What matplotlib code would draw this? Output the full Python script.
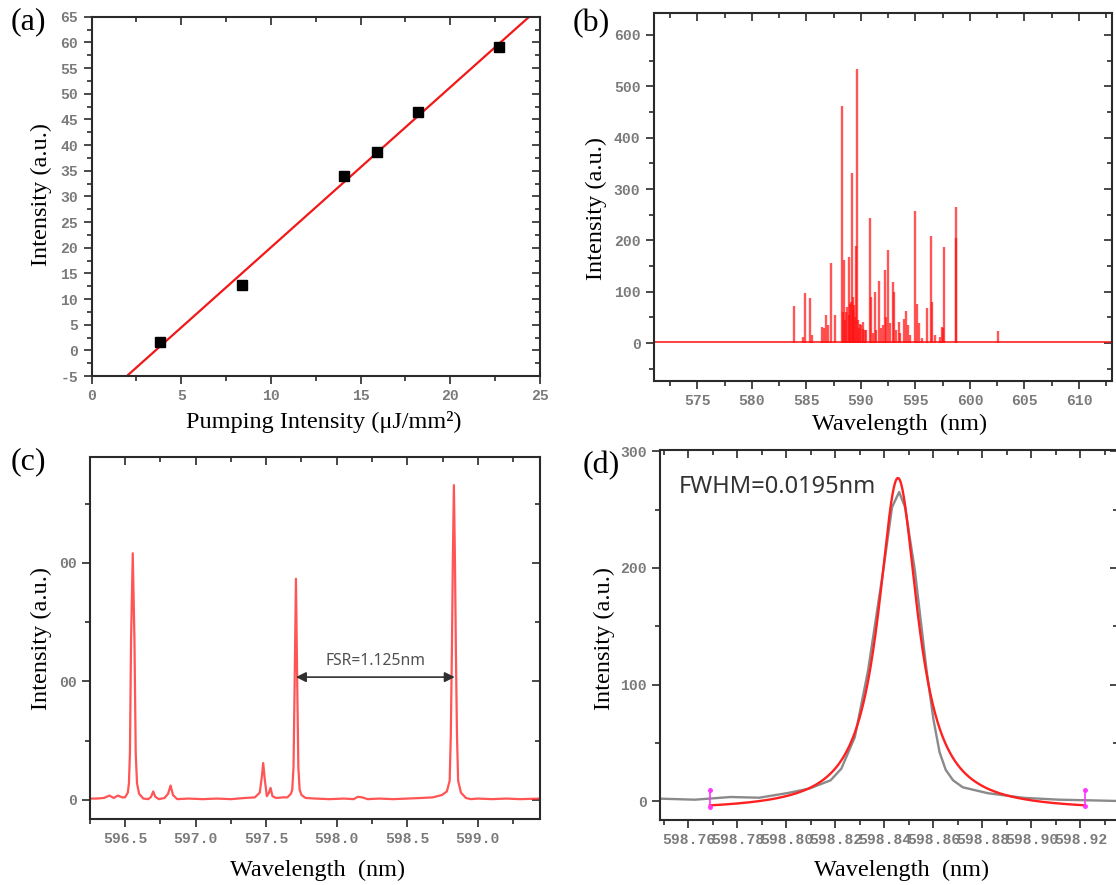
import numpy as np
import matplotlib
matplotlib.use("Agg")
import matplotlib.pyplot as plt
from matplotlib.ticker import MultipleLocator

# ---------------- data ----------------
# (a) output intensity versus pumping intensity
pump_intensity = [3.8, 8.4, 14.1, 15.9, 18.2, 22.7]
output_intensity = [1.7, 12.8, 33.9, 38.6, 46.4, 59.0]

# (b) lasing lines of the full spectrum
line_wavelength = [583.91, 584.70, 584.83, 585.32, 585.50, 586.42, 586.60, 586.82,
                   586.95, 587.27, 587.64, 588.26, 588.35, 588.47, 588.55, 588.65,
                   588.75, 588.87, 588.95, 589.00, 589.05, 589.17, 589.25, 589.32,
                   589.40, 589.50, 589.57, 589.63, 589.70, 589.80, 589.90, 590.00,
                   590.15, 590.20, 590.37, 590.50, 590.79, 590.90, 591.10, 591.25,
                   591.40, 591.62, 591.80, 592.00, 592.23, 592.30, 592.53, 592.70,
                   592.94, 593.04, 593.20, 593.45, 593.60, 593.91, 594.13, 594.30,
                   594.50, 594.92, 595.14, 595.30, 595.60, 596.06, 596.42, 596.55,
                   596.80, 597.30, 597.43, 597.50, 597.64, 598.72, 598.74, 602.57]
line_intensity = [72, 12, 97, 88, 15, 31, 30, 54,
                  35, 156, 54, 461, 60, 162, 45, 60,
                  70, 168, 55, 77, 80, 331, 65, 90,
                  75, 50, 190, 533, 45, 30, 38, 35,
                  41, 28, 25, 25, 244, 90, 20, 100,
                  25, 122, 30, 35, 143, 50, 182, 40,
                  120, 99, 25, 41, 20, 47, 62, 35,
                  15, 257, 77, 40, 10, 69, 208, 80,
                  15, 12, 31, 30, 188, 205, 265, 23]
spectrum_range = [571.0, 613.0]
baseline_level = [1.5, 1.5]

# (c) high resolution spectrum around 598 nm
c_wavelength = [596.25, 596.30, 596.35, 596.39, 596.42, 596.45, 596.48, 596.50,
                596.52, 596.528, 596.535, 596.543, 596.555, 596.567, 596.576, 596.585,
                596.60, 596.63, 596.665, 596.685, 596.70, 596.715, 596.74, 596.78,
                596.805, 596.823, 596.84, 596.87, 596.95, 597.05, 597.15, 597.25,
                597.35, 597.42, 597.455, 597.47, 597.479, 597.49, 597.505, 597.52,
                597.531, 597.545, 597.57, 597.62, 597.65, 597.675, 597.685, 597.694,
                597.701, 597.711, 597.721, 597.728, 597.737, 597.75, 597.78, 597.85,
                597.95, 598.05, 598.12, 598.15, 598.18, 598.22, 598.30, 598.40,
                598.50, 598.60, 598.68, 598.745, 598.78, 598.80, 598.808, 598.816,
                598.822, 598.830, 598.838, 598.844, 598.852, 598.86, 598.88, 598.915,
                598.95, 599.00, 599.10, 599.20, 599.30, 599.44]
c_intensity = [2, 2, 3, 7, 3, 7, 4, 4,
               12, 28, 79, 270, 416, 270, 79, 28,
               10, 2, 1, 5, 14, 5, 1, 3,
               10, 24, 8, 1, 2, 1, 2, 1,
               3, 4, 12, 40, 62, 35, 6, 12,
               20, 6, 3, 4, 4, 10, 17, 56,
               180, 373, 180, 56, 17, 8, 3, 2,
               1, 2, 1, 5, 4, 1, 2, 1,
               2, 3, 4, 8, 14, 32, 107, 253,
               394, 531, 394, 253, 107, 32, 12, 3,
               1, 2, 1, 2, 1, 2]
fsr_start = 597.711
fsr = 1.125
fsr_level = 207

# (d) single mode and its Lorentzian fit
d_wavelength = [598.7481, 598.7626, 598.7772, 598.7889, 598.8005, 598.8093, 598.8180,
                598.8224, 598.8279, 598.8333, 598.8395, 598.8431, 598.8460, 598.8484,
                598.8524, 598.8572, 598.8600, 598.8625, 598.8650, 598.8680, 598.8720,
                598.8821, 598.8967, 598.9112, 598.9250, 598.9350]
d_intensity = [2.3, 1.4, 3.7, 3.1, 7.1, 10.9, 18.0,
               28.0, 55.0, 112.0, 198.0, 252.0, 265.0, 252.0,
               198.0, 112.0, 70.0, 42.0, 27.0, 18.0, 12.0,
               7.0, 3.0, 1.4, 0.8, 0.3]
fwhm = 0.0195
fit_center = 598.8455
fit_amplitude = 285.0
fit_offset = -8.0
fit_range = [598.7687, 598.9217]

# ---------------- styling ----------------
W, H = 1116, 885
fig = plt.figure(figsize=(W / 100, H / 100), dpi=100)

SERIF = "Liberation Serif"
TICK_FONT = "Liberation Mono"
TICK_COLOR = "#7a7a7a"
FRAME = "#2a2a2a"
TICK_KW = dict(fontfamily=TICK_FONT, fontsize=10.6, fontweight="bold", color=TICK_COLOR)
LABEL_SIZE = 17.5
PANEL_SIZE = 23


def rect(left, top, right, bottom):
    return [left / W, 1 - bottom / H, (right - left) / W, (bottom - top) / H]


def frame(ax, xmajor, xminor, ymajor, yminor, xlim, ylim):
    ax.set_xlim(*xlim)
    ax.set_ylim(*ylim)
    for sp in ax.spines.values():
        sp.set_color(FRAME)
        sp.set_linewidth(1.5)
    ax.xaxis.set_minor_locator(MultipleLocator(xminor))
    ax.yaxis.set_minor_locator(MultipleLocator(yminor))
    ax.tick_params(which="both", direction="out", color=FRAME, width=1.2, pad=4)
    ax.tick_params(which="major", length=5.5)
    ax.tick_params(which="minor", length=3.5)
    top = ax.secondary_xaxis("top")
    top.set_xticks(xmajor, [""] * len(xmajor))
    top.xaxis.set_minor_locator(MultipleLocator(xminor))
    top.tick_params(which="both", direction="in", color=FRAME, width=1.2)
    top.tick_params(which="major", length=5.5)
    top.tick_params(which="minor", length=3.5)
    right = ax.secondary_yaxis("right")
    right.set_yticks(ymajor, [""] * len(ymajor))
    right.yaxis.set_minor_locator(MultipleLocator(yminor))
    right.tick_params(which="both", direction="in", color=FRAME, width=1.2)
    right.tick_params(which="major", length=5.5)
    right.tick_params(which="minor", length=3.5)
    for sec in (top, right):
        for sp in sec.spines.values():
            sp.set_visible(False)


def label_text(x, y, s, rot=0, size=LABEL_SIZE):
    fig.text(x / W, 1 - y / H, s, ha="center", va="center", rotation=rot,
             fontsize=size, family=SERIF, color="black")


# ---------------- (a) ----------------
ax_a = fig.add_axes(rect(91.5, 16.7, 540, 376))
slope, intercept = np.polyfit(pump_intensity, output_intensity, 1)
fit_x = np.array([0.0, 25.0])
ax_a.plot(fit_x, slope * fit_x + intercept, color="#f01818", lw=1.6, zorder=2)
ax_a.plot(pump_intensity, output_intensity, ls="none", marker="s", ms=6.5,
          color="black", zorder=3)
xt = list(range(0, 26, 5))
yt = list(range(-5, 66, 5))
ax_a.set_xticks(xt, [str(v) for v in xt], **TICK_KW)
ax_a.set_yticks(yt, [str(v) for v in yt], **TICK_KW)
frame(ax_a, xt, 2.5, yt, 2.5, (0, 25), (-5, 65))
label_text(324, 422, "Pumping Intensity (μJ/mm²)")
label_text(41, 195, "Intensity (a.u.)", rot=90)
label_text(28, 22, "(a)", size=PANEL_SIZE)

# ---------------- (b) ----------------
ax_b = fig.add_axes(rect(653.7, 13.3, 1111.7, 380.7))
ax_b.plot(spectrum_range, baseline_level, color="#ff1010", lw=1.4, alpha=0.8)
ax_b.vlines(line_wavelength, 0, line_intensity, color="#ff1010", lw=1.7, alpha=0.7)
xt = list(range(575, 611, 5))
yt = list(range(0, 601, 100))
ax_b.set_xticks(xt, [str(v) for v in xt], **TICK_KW)
ax_b.set_yticks(yt, [str(v) for v in yt], **TICK_KW)
frame(ax_b, xt, 2.5, yt, 50, spectrum_range, (-73, 642))
label_text(900, 424, "Wavelength  (nm)")
label_text(596, 208, "Intensity (a.u.)", rot=90)
label_text(591, 24, "(b)", size=PANEL_SIZE)

# ---------------- (c) ----------------
ax_c = fig.add_axes(rect(89.7, 457.3, 540, 819.3))
ax_c.plot(c_wavelength, c_intensity, color="#ff2a2a", lw=1.6, alpha=0.8)
ax_c.annotate("", xy=(fsr_start, fsr_level), xytext=(fsr_start + fsr, fsr_level),
              arrowprops=dict(arrowstyle="<|-|>", color="#303030", lw=1.2,
                              mutation_scale=15, shrinkA=0, shrinkB=0))
ax_c.text(fsr_start + fsr / 2, fsr_level + 14, f"FSR={fsr:.3f}nm", ha="center",
          va="bottom", fontsize=11.3, family="Noto Sans", color="#505050")
xt = [596.5, 597.0, 597.5, 598.0, 598.5, 599.0]
yt = [0, 200, 400]
ax_c.set_xticks(xt, [f"{v:.1f}" for v in xt], **TICK_KW)
ax_c.set_yticks(yt, ["0", "00", "00"], **TICK_KW)
frame(ax_c, xt, 0.25, yt, 100, (596.25, 599.44), (-33, 578))
label_text(318, 870, "Wavelength  (nm)")
label_text(41, 638, "Intensity (a.u.)", rot=90)
label_text(28, 462, "(c)", size=PANEL_SIZE)

# ---------------- (d) ----------------
ax_d = fig.add_axes(rect(659.8, 450, 1117.7, 820))
ax_d.plot(d_wavelength, d_intensity, color="#8a8a8a", lw=1.7)
hw = fwhm / 2
fx = np.linspace(fit_range[0], fit_range[1], 600)
fy = fit_offset + fit_amplitude * hw ** 2 / ((fx - fit_center) ** 2 + hw ** 2)
ax_d.plot(fx, fy, color="#ff2020", lw=1.7)
for xe in fit_range:
    ye = fit_offset + fit_amplitude * hw ** 2 / ((xe - fit_center) ** 2 + hw ** 2)
    ax_d.plot([xe, xe], [ye - 1, ye + 13], color="#ff33ff", lw=1.2)
    ax_d.plot([xe, xe], [ye - 1, ye + 13], ls="none", marker="o", ms=2.5,
              color="#ff33ff")
ax_d.text(598.7559, 269, f"FWHM={fwhm}nm", ha="left", va="center", fontsize=17,
          family="Noto Sans", color="#333333")
xt = [598.76, 598.78, 598.80, 598.82, 598.84, 598.86, 598.88, 598.90, 598.92]
yt = [0, 100, 200, 300]
ax_d.set_xticks(xt, [f"{v:.2f}" for v in xt], **TICK_KW)
ax_d.set_yticks(yt, [str(v) for v in yt], **TICK_KW)
frame(ax_d, xt, 0.01, yt, 50, (598.7483, 598.9352), (-16, 301))
label_text(902, 870, "Wavelength  (nm)")
label_text(604, 638, "Intensity (a.u.)", rot=90)
label_text(601, 466, "(d)", size=PANEL_SIZE)

fig.savefig("out.png", dpi=100, facecolor="white")
